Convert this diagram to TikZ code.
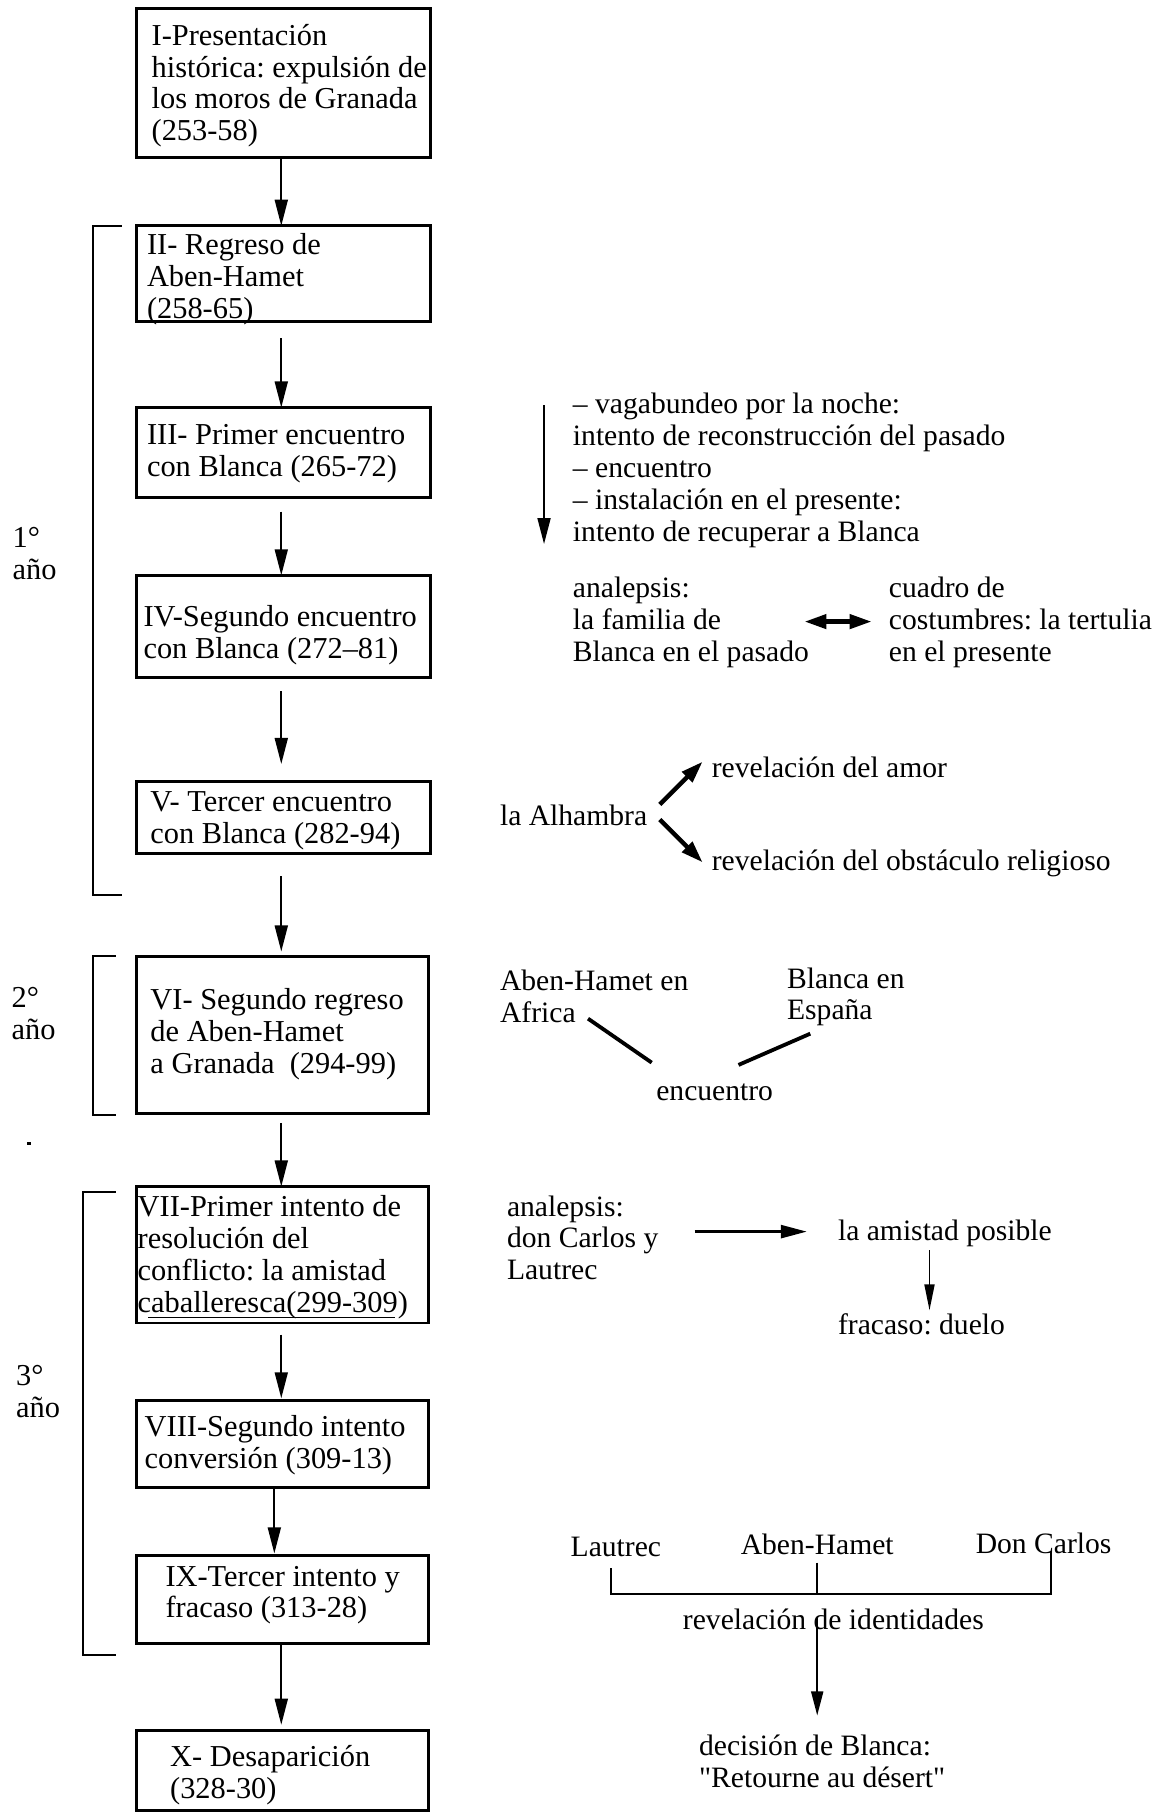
\documentclass[tikz,border=0pt]{standalone}
\usepackage{fontspec}
\setmainfont{Liberation Serif}[Ligatures=TeXOff]
\usetikzlibrary{arrows.meta}
\newcommand\myU{0.5787pt}
\newcommand\mybox[5]{\node[boxst, anchor=north west, minimum width=#4*0.5787pt, minimum height=#5*0.5787pt] (#1) at (#2,#3) {};}
\newcommand\mytext[4]{\node[txt] (#1) at (#2,#3-19.2) {#4};}
\newcommand\mytextr[4]{\node[txt, rtxt] (#1) at (#2,#3-19.2) {#4};}
\begin{document}
\frenchspacing
\begin{tikzpicture}[x=0.5787pt,y=-0.5787pt,
  every node/.style={inner sep=0pt, outer sep=0pt},
  boxst/.style={draw, line width=1.4pt},
  txt/.style={anchor=north west, align=left, font=\fontsize{15.2}{15.9}\selectfont\frenchspacing, execute at begin node=\strut},
  rtxt/.style={font=\fontsize{14.8}{15.9}\selectfont\frenchspacing},
  arr/.style={line width=0.9pt, -{Triangle[length=13pt,width=6.5pt]}},
  sarr/.style={line width=2.2pt, -{Triangle[length=11pt,width=7pt]}},
  brk/.style={line width=1.1pt},
  thk/.style={line width=1.9pt}]
\useasboundingbox (0,0) rectangle (1004,1568);

% boxes
\mybox{b1}{118}{7}{254}{129}
\mybox{b2}{118}{195}{254}{83}
\mybox{b3}{118}{352}{254}{78}
\mybox{b4}{118}{497}{254}{88}
\mybox{b5}{118}{675}{254}{62}
\mybox{b6}{118}{826}{252}{136}
\mybox{b7}{118}{1025}{252}{118}
\mybox{b8}{118}{1210}{252}{75}
\mybox{b9}{118}{1344}{252}{76}
\mybox{b10}{118}{1495}{252}{69}

% box texts
\mytext{t1}{131}{40}{I-Presentación\\histórica: expulsión de\\los moros de Granada\\(253-58)}
\mytext{t2}{127}{221}{II- Regreso de\\Aben-Hamet\\(258-65)}
\mytext{t3}{127}{386}{III- Primer encuentro\\con Blanca (265-72)}
\mytext{t4}{124}{542}{IV-Segundo encuentro\\con Blanca (272–81)}
\mytext{t5}{130}{703}{V- Tercer encuentro\\con Blanca (282-94)}
\mytext{t6}{130}{873}{VI- Segundo regreso\\de Aben-Hamet\\a Granada~~(294-99)}
\mytext{t7}{119}{1052}{VII-Primer intento de\\resolución del\\conflicto: la amistad\\caballeresca(299-309)}
\draw[line width=0.9pt] ([xshift=9*\myU, yshift=3.5*\myU]t7.south west) -- ([xshift=222*\myU, yshift=3.5*\myU]t7.south west);
\mytext{t8}{125}{1242}{VIII-Segundo intento\\conversión (309-13)}
\mytext{t9}{143}{1372}{IX-Tercer intento y\\fracaso (313-28)}
\mytext{t10}{147}{1527}{X- Desaparición\\(328-30)}

% main arrows
\draw[arr] ([xshift=-2*\myU]b1.south) -- ([xshift=-2*\myU]b2.north);
\draw[arr, shorten <=14*\myU] ([xshift=-2*\myU]b2.south) -- ([xshift=-2*\myU]b3.north);
\draw[arr, shorten <=12*\myU] ([xshift=-2*\myU]b3.south) -- ([xshift=-2*\myU]b4.north);
\draw[arr, shorten <=12*\myU, shorten >=15*\myU] ([xshift=-2*\myU]b4.south) -- ([xshift=-2*\myU]b5.north);
\draw[arr, shorten <=20*\myU, shorten >=4*\myU] ([xshift=-2*\myU]b5.south) -- ([xshift=-1*\myU]b6.north);
\draw[arr, shorten <=8*\myU] ([xshift=-1*\myU]b6.south) -- ([xshift=-1*\myU]b7.north);
\draw[arr, shorten <=10*\myU, shorten >=2*\myU] ([xshift=-1*\myU]b7.south) -- ([xshift=-1*\myU]b8.north);
\draw[arr, shorten >=2*\myU] ([xshift=-7*\myU]b8.south) -- ([xshift=-7*\myU]b9.north);
\draw[arr, shorten >=5*\myU] ([xshift=-1*\myU]b9.south) -- ([xshift=-1*\myU]b10.north);

% year brackets
\draw[brk] (105,195) -- (80,195) -- (80,773) -- (105,773);
\draw[brk] (100,826) -- (80,826) -- (80,963) -- (100,963);
\draw[brk] (100,1030) -- (72,1030) -- (72,1430) -- (100,1430);
\mytext{y1}{11}{475}{1°\\año}
\mytext{y2}{10}{872}{2°\\año}
\mytext{y3}{14}{1199}{3°\\año}
\fill (23,987) rectangle (27,989);

% right side: block 1
\mytextr{r1}{495}{359}{– vagabundeo por la noche:\\intento de reconstrucción del pasado\\– encuentro\\– instalación en el presente:\\intento de recuperar a Blanca}
\coordinate (a1s) at (470,350);
\coordinate (a1e) at (470,470);
\draw[arr] (a1s) -- (a1e);

% block 2
\mytextr{r2}{495}{518}{analepsis:\\la familia de\\Blanca en el pasado}
\mytextr{r3}{768}{518}{cuadro de\\costumbres: la tertulia\\en el presente}
\coordinate (d1) at (695,537);
\coordinate (d2) at (753,537);
\draw[line width=2.2pt, {Triangle[length=11pt,width=7pt]}-{Triangle[length=11pt,width=7pt]}] (d1) -- (d2);

% block 3
\mytextr{r4}{432}{713}{la Alhambra}
\mytextr{r5}{615}{672}{revelación del amor}
\mytextr{r6}{615}{752}{revelación del obstáculo religioso}
\coordinate (al1) at (570,695);
\coordinate (al2) at (607,658);
\coordinate (al3) at (570,708);
\coordinate (al4) at (607,745);
\draw[sarr] (al1) -- (al2);
\draw[sarr] (al3) -- (al4);

% block 4
\mytextr{r7}{432}{857}{Aben-Hamet en\\Africa}
\mytextr{r8}{680}{855}{Blanca en\\España}
\mytextr{r9}{567}{951}{encuentro}
\coordinate (e1) at (508,880);
\coordinate (e2) at (563,918);
\coordinate (e3) at (638,920);
\coordinate (e4) at (700,893);
\draw[thk] (e1) -- (e2);
\draw[thk] (e3) -- (e4);

% block 5
\mytextr{r10}{438}{1052}{analepsis:\\don Carlos y\\Lautrec}
\mytextr{r11}{724}{1072}{la amistad posible}
\mytextr{r12}{724}{1153}{fracaso: duelo}
\coordinate (f1) at (600,1064);
\coordinate (f2) at (697,1064);
\draw[line width=1.3pt, -{Triangle[length=13pt,width=6.5pt]}] (f1) -- (f2);
\coordinate (g1) at (803,1080);
\coordinate (g2) at (803,1132);
\draw[line width=0.9pt, -{Triangle[length=13pt,width=5pt]}] (g1) -- (g2);

% block 6
\mytextr{r13}{493}{1345}{Lautrec}
\mytextr{r14}{640}{1343}{Aben-Hamet}
\mytextr{r15}{843}{1342}{Don Carlos}
\mytextr{r16}{590}{1408}{revelación de identidades}
\mytextr{r17}{604}{1518}{decisión de Blanca:\\"Retourne au désert"}
\coordinate (h1) at (528,1355);
\coordinate (h2) at (528,1377);
\coordinate (h3) at (908,1377);
\coordinate (h4) at (908,1340);
\coordinate (h5) at (706,1350);
\coordinate (h6) at (706,1377);
\draw[brk] (h1) -- (h2) -- (h3) -- (h4);
\draw[brk] (h5) -- (h6);
\coordinate (k1) at (706,1398);
\coordinate (k2) at (706,1482);
\draw[line width=0.9pt, -{Triangle[length=12pt,width=6pt]}] (k1) -- (k2);
\end{tikzpicture}
\end{document}
